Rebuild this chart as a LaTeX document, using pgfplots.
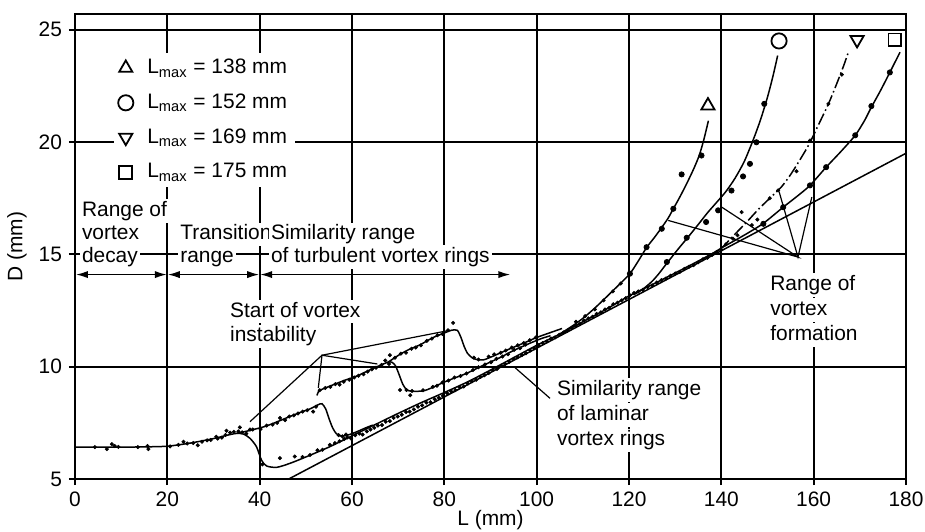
\documentclass[border=0pt]{standalone}
\usepackage{pgfplots}
\pgfplotsset{compat=1.18}
\usepackage{fontspec}
\setmainfont{Liberation Sans}
\usetikzlibrary{arrows.meta}
\tikzset{lbl/.style={font=\fontsize{10.5}{12}\selectfont, fill=white, inner xsep=1bp, inner ysep=0bp,
    text height=8.6bp, text depth=3.2bp, anchor=base west}}

\begin{document}
\begin{tikzpicture}
\begin{axis}[
  scale only axis,
  width=415.5bp, height=232.5bp,
  xmin=0, xmax=180, ymin=5, ymax=25.7,
  xtick={0,20,...,180}, ytick={5,10,...,25},
  grid=major,
  major grid style={black, line width=0.9bp},
  axis line style={black, line width=1.2bp},
  tick style={black, line width=0.9bp},
  tick align=outside,
  major tick length=3bp,
  xtick pos=bottom, ytick pos=left,
  /pgf/number format/assume math mode=true,
  ticklabel style={font=\fontsize{10.5}{12}\selectfont},
  xlabel={L (mm)}, ylabel={D (mm)},
  label style={font=\fontsize{10.5}{12}\selectfont},
  x label style={at={(axis description cs:0.5,0)}, anchor=center, yshift=-20.5bp},
  y label style={at={(axis description cs:-0.0698,0.5)}, anchor=center, rotate=0},
  legend style={at={(axis cs:8.4,23.97)}, anchor=north west, draw=none, fill=white,
    font=\fontsize{10.5}{12}\selectfont, row sep=4.6bp, inner xsep=2bp, inner ysep=1bp},
  legend cell align=left,
]
\coordinate (SW) at (rel axis cs:0,0);
\coordinate (NE) at (rel axis cs:1,1);

% ---------- curves ----------
\pgfplotsset{crv/.style={forget plot, no marks, black, line width=0.75bp, smooth, tension=0.45}}
% base + laminar
\addplot[crv] coordinates {(0,6.42)(5,6.42)(10,6.42)(15,6.43)(20,6.46)(25,6.6)(30,6.8)(33,6.95)(35,7.03)(36.5,7.0)(37.9,6.81)(39.3,6.44)(40.4,5.84)(41.5,5.58)(43.7,5.52)(46.6,5.7)(50,5.98)(55,6.42)(60,6.92)(65,7.42)(70,7.92)(75,8.4)(80,8.85)(85,9.32)(90,9.85)(95,10.4)(100,10.95)(105,11.45)(110,12.0)(115,12.55)(120,13.15)(125,13.65)(130,14.17)(135,14.7)(140,15.25)};
% turbulent a
\addplot[crv] coordinates {(35,7.03)(37,7.12)(39,7.22)(41,7.33)(43,7.48)(45,7.65)(47,7.82)(49,7.98)(51,8.13)(52.6,8.3)(53.5,8.35)(54.3,8.12)(55,7.7)(55.8,7.28)(56.6,7.02)(57.6,6.92)(59,6.95)(61,7.1)(63,7.28)(64.5,7.4)};
% turbulent b
\addplot[crv] coordinates {(52.4,8.72)(52.9,8.95)(53.6,9.0)(56,9.2)(58.5,9.4)(61,9.58)(63.5,9.82)(66,10.05)(67.8,10.2)(68.6,10.2)(69.4,10.05)(70.2,9.65)(71,9.22)(71.8,8.98)(72.8,8.91)(75.4,8.92)(77.5,9.08)(79.7,9.29)(82,9.48)(84.8,9.7)(88,10.02)(92,10.4)(95,10.72)(98.5,11.04)(101,11.25)(103,11.38)};
% turbulent c
\addplot[crv] coordinates {(67.8,10.2)(70.4,10.55)(72.5,10.78)(74.7,10.97)(77.6,11.3)(80,11.5)(81.5,11.62)(82.8,11.62)(83.6,11.3)(84.3,10.9)(85,10.6)(86,10.4)(87,10.32)(88.4,10.3)(90,10.42)(92,10.6)(94,10.78)(96,10.95)(98,11.12)(100,11.3)(103,11.52)(105.5,11.7)};
% Lmax = 138
\addplot[crv] coordinates {(105,11.45)(108,11.85)(110,12.15)(112,12.5)(114,12.88)(116,13.28)(118,13.68)(120.2,14.14)(122,14.7)(123.8,15.3)(125.5,15.75)(127.1,16.2)(128.5,16.62)(129.6,17.03)(131,17.55)(132.5,18.15)(134,18.8)(135.2,19.4)(136.2,20.1)(137.2,20.95)};
% Lmax = 152
\addplot[crv] coordinates {(121,13.2)(123,13.45)(125,13.8)(126.5,14.15)(128,14.55)(130.5,15.2)(133,15.82)(135,16.33)(137,16.85)(139,17.32)(141,17.8)(143,18.4)(145,19.15)(147,20.15)(148.5,21.0)(150,22.0)(151.2,22.95)(152.2,23.85)};
% Lmax = 169
\addplot[crv, dash pattern=on 6bp off 1.6bp on 0.8bp off 1.6bp] coordinates {(136,14.8)(138,15.02)(140.4,15.35)(142,15.7)(144,16.12)(146,16.55)(148,17.0)(150.5,17.5)(153,18.0)(155,18.55)(157,19.2)(159,19.9)(161,20.75)(163.2,21.7)(165,22.6)(166.5,23.4)(167.6,24.05)};
% Lmax = 175
\addplot[crv] coordinates {(138,15.02)(140.4,15.33)(141.9,15.5)(145.5,15.92)(149.1,16.38)(153.4,17.1)(156.5,17.6)(159.2,18.07)(162.7,18.88)(166,19.6)(169,20.3)(171,20.95)(172.5,21.55)(174.5,22.3)(176.5,23.1)(178.7,24.0)};
% similarity straight line
\addplot[forget plot, no marks, black, line width=0.75bp] coordinates {(46.3,5.0)(180,19.5)};

% ---------- measured points ----------
\pgfplotsset{dots/.style={forget plot, only marks, mark=*, mark size=0.85bp, black, mark options={line width=0.3bp}}}
\addplot[dots] coordinates {(4.3,6.42)(6.9,6.33)(8.0,6.55)(8.6,6.47)(9.4,6.43)(13.6,6.42)(15.7,6.47)(15.9,6.33)(20.6,6.45)(22.4,6.52)(23.5,6.66)(24.3,6.58)(25.6,6.6)(26.6,6.5)(27.5,6.66)(28.6,6.72)(29.4,6.74)(30.6,6.88)(30.9,6.8)(31.8,6.84)(32.6,6.96)(32.8,7.15)(33.6,7.06)(34.4,7.1)(35.4,7.12)(35.7,7.3)(36.2,7.08)(37.1,7.02)(37.9,7.2)};
\addplot[dots] coordinates {(38.5,7.2)(40.2,7.22)(41.5,7.38)(42.8,7.42)(43.8,7.5)(44.4,7.72)(45.5,7.62)(46.4,7.78)(47.4,7.83)(48.3,7.92)(49.3,8.0)(50.3,8.06)(51.6,8.0)(52.2,8.22)(57.1,6.95)(57.9,6.9)(58.7,6.98)};
\addplot[dots] coordinates {(53.0,8.95)(54.2,9.05)(55.3,9.1)(56.4,9.22)(57.3,9.2)(58.2,9.33)(59.4,9.42)(60.5,9.52)(61.4,9.6)(62.5,9.66)(63.4,9.78)(64.3,9.88)(65.2,9.95)(66.4,10.08)(67.2,10.27)(68.0,10.12)(68.2,10.51)(70.4,8.96)(72.6,8.73)};
\addplot[dots] coordinates {(71.8,8.96)(73.0,8.92)(75.4,8.95)(77.5,9.1)(78.4,9.15)(79.6,9.3)(80.9,9.38)(82.2,9.52)(83.5,9.58)(84.8,9.7)(86.2,9.85)(87.4,9.98)(88.8,10.1)(90.1,10.2)(91.3,10.35)(92.6,10.45)(93.8,10.55)(95.1,10.75)(96.4,10.82)(97.6,10.98)};
\addplot[dots] coordinates {(69.3,10.4)(70.6,10.58)(71.7,10.62)(72.9,10.8)(73.8,10.85)(74.9,10.95)(76.2,11.15)(77.3,11.25)(78.5,11.4)(79.6,11.45)(80.8,11.62)(81.9,11.95)(86.4,10.4)(87.4,10.32)(89.6,10.45)(90.8,10.55)(92.2,10.62)(93.3,10.72)(94.6,10.85)(95.9,10.95)(97.2,11.05)(98.5,11.18)(99.8,11.3)};
\addplot[dots] coordinates {(40.6,5.65)(44.4,5.93)(47.6,6.0)(49.3,5.98)(50.9,6.07)(52.5,6.28)(53.6,6.3)(55.2,6.52)(56.3,6.6)(57.3,6.68)(58.3,6.78)(59.0,6.85)(59.8,6.8)(60.7,6.95)(61.6,7.02)(62.3,6.98)(63.2,7.12)(64.0,7.2)(64.8,7.28)(65.6,7.38)(66.5,7.4)(67.3,7.55)(68.2,7.58)(69.0,7.72)(69.9,7.78)(70.8,7.86)(71.7,7.98)(72.5,8.0)(73.4,8.1)(74.3,8.22)(75.2,8.28)(76.1,8.4)(77.0,8.42)(77.9,8.55)(78.8,8.62)(79.7,8.7)(80.6,8.82)(81.5,8.9)(82.4,8.96)(83.3,9.08)(84.2,9.12)(85.1,9.25)(86.0,9.35)(86.9,9.42)(87.8,9.55)(88.7,9.62)(89.6,9.72)(90.5,9.85)(91.4,9.9)(92.3,10.05)(93.2,10.12)(94.1,10.22)(95.0,10.35)(95.9,10.42)(96.8,10.52)(97.7,10.6)(98.6,10.72)(99.5,10.82)(100.4,10.95)(101.3,11.05)(102.2,11.12)(103.1,11.25)(104.0,11.3)(104.9,11.42)(105.8,11.52)(106.7,11.6)(107.6,11.72)(108.5,11.82)(109.4,11.9)(110.3,12.05)(111.2,12.15)(112.1,12.22)(113.0,12.35)(113.9,12.42)(114.8,12.55)(115.7,12.62)(116.6,12.78)(117.5,12.85)(118.4,12.95)(119.3,13.05)(120.2,13.18)(121.1,13.28)(122.0,13.35)(123.0,13.42)(124.0,13.55)(125.0,13.62)(126.0,13.75)(127.0,13.85)(128.0,13.92)(129.0,14.05)(130.0,14.15)(131.0,14.22)(132.0,14.35)(133.0,14.45)(134.0,14.52)(135.0,14.65)(136.0,14.78)(137.0,14.85)(138.0,14.98)(139.0,15.1)(140.0,15.2)(141,15.45)(142.5,15.7)(143.5,15.85)(146.6,16.3)(147.8,16.55)};
\addplot[dots] coordinates {(108.5,12.0)(110.5,12.25)(112.6,12.55)(114.5,12.95)(116.5,13.35)(118.2,13.7)};
\addplot[dots] coordinates {(144.4,16.88)(150.5,17.5)(152.3,17.85)(156.3,18.7)(159.2,20.07)(163.2,21.7)(166.1,23.0)};
\addplot[forget plot, only marks, mark=*, mark size=1.3bp, black] coordinates {(120.2,14.14)(123.8,15.32)(127.1,16.14)(129.6,17.03)(131.4,18.56)(135.7,19.4)(128.2,14.66)(132.5,15.74)(136.7,16.44)(139.3,16.96)(142.2,17.84)(144.7,18.47)(146.2,19.03)(147.6,19.99)(149.3,21.7)(149.1,16.36)(153.4,17.1)(159.2,18.07)(162.7,18.88)(169,20.3)(172.5,21.6)(176.5,23.1)};

% ---------- annotation lines ----------
\pgfplotsset{ann/.style={forget plot, no marks, black, line width=0.6bp}}
\addplot[ann] coordinates {(37.9,7.55)(53.5,10.51)(81.2,11.62)};
\addplot[ann] coordinates {(52.7,9.05)(53.5,10.51)(65.5,10.12)};
\addplot[ann] coordinates {(128.5,16.51)(156.6,14.88)(140.1,17.1)};
\addplot[ann] coordinates {(152.5,17.8)(156.6,14.88)(159.6,17.55)};
\addplot[ann] coordinates {(95.3,9.96)(102.9,8.59)};
\pgfplotsset{arr/.style={forget plot, no marks, black, line width=0.75bp, {Latex[length=6bp,width=3.6bp]}-{Latex[length=6bp,width=3.6bp]}}}
\addplot[arr] coordinates {(0.2,14.1)(19.9,14.1)};
\addplot[arr] coordinates {(20.1,14.1)(39.9,14.1)};
\addplot[arr] coordinates {(40.1,14.1)(94.3,14.1)};

% ---------- end markers / legend ----------
\addplot[only marks, mark=triangle, mark size=3.8bp, black, mark options={line width=0.9bp}] coordinates {(137.1,21.62)};
\addlegendentry{\hspace{5bp}L\textsubscript{max} = 138 mm}
\addplot[only marks, mark=o, mark size=3.8bp, black, mark options={line width=0.9bp}] coordinates {(152.5,24.5)};
\addlegendentry{\hspace{5bp}L\textsubscript{max} = 152 mm}
\addplot[only marks, mark=triangle, mark size=3.8bp, black, mark options={line width=0.9bp, rotate=180}] coordinates {(169.4,24.55)};
\addlegendentry{\hspace{5bp}L\textsubscript{max} = 169 mm}
\addplot[only marks, mark=square, mark size=3.2bp, black, mark options={line width=0.9bp}] coordinates {(177.6,24.55)};
\addlegendentry{\hspace{5bp}L\textsubscript{max} = 175 mm}

% ---------- texts ----------
\node[lbl] at (axis cs:1.0,16.69) {Range of};
\node[lbl] at (axis cs:1.0,15.65) {vortex};
\node[lbl] at (axis cs:1.0,14.63) {decay};
\node[lbl] at (axis cs:22.3,15.65) {Transition};
\node[lbl] at (axis cs:22.3,14.63) {range};
\node[lbl] at (axis cs:41.95,15.65) {Similarity range};
\node[lbl] at (axis cs:41.95,14.63) {of turbulent vortex rings};
\node[lbl] at (axis cs:33.1,12.21) {Start of vortex};
\node[lbl] at (axis cs:33.1,11.1) {instability};
\node[lbl] at (axis cs:103.9,8.73) {Similarity range};
\node[lbl] at (axis cs:103.9,7.6) {of laminar};
\node[lbl] at (axis cs:103.9,6.47) {vortex rings};
\node[lbl] at (axis cs:150.1,13.4) {Range of};
\node[lbl] at (axis cs:150.1,12.29) {vortex};
\node[lbl] at (axis cs:150.1,11.18) {formation};
\end{axis}
\pgfresetboundingbox
\path ([shift={(-37.5bp,-26.5bp)}]SW) rectangle ([shift={(9.5bp,7bp)}]NE);
\end{tikzpicture}
\end{document}
